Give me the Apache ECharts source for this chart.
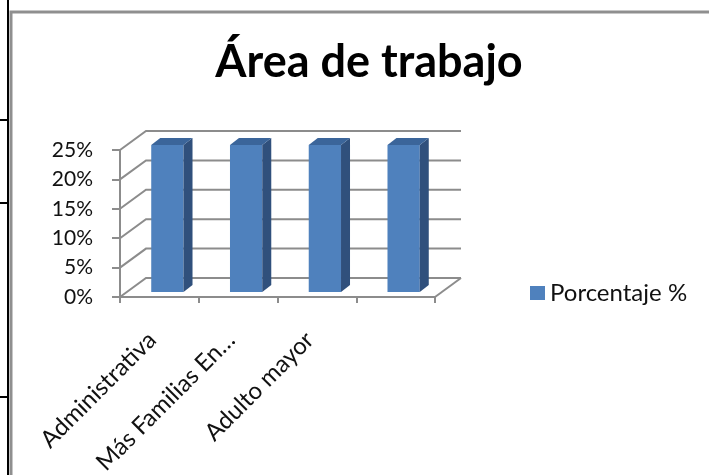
<!DOCTYPE html>
<html>
<head>
<meta charset="utf-8">
<style>
  html, body { margin: 0; padding: 0; background: #fff; }
  #chart { width: 709px; height: 475px; }
</style>
<script src="https://cdn.jsdelivr.net/npm/echarts@6/dist/echarts.min.js"></script>
</head>
<body>
<div id="chart"></div>
<script>
// Áreas de trabajo y porcentaje de cada una
const categories = ['Administrativa', 'Más Familias En…', 'Adulto mayor', ''];
const porcentaje = [0.25, 0.25, 0.25, 0.25];
const seriesName = 'Porcentaje %';
const chartTitle = 'Área de trabajo';

// Escala vertical
const Y_MIN = 0, Y_MAX = 0.25, Y_STEP = 0.05;
const yTicks = [];
for (let v = Y_MIN; v <= Y_MAX + 1e-9; v += Y_STEP) yTicks.push([0, +v.toFixed(2)]);

// Perspectiva de la vista 3D
const WALL_DX = 26, WALL_DY = 19;   // profundidad de la pared del fondo
const BAR_DX = 8, BAR_DY = 5;       // plano en que se ubican las columnas
const SIDE_DX = 9, SIDE_DY = 7;     // grosor de cada columna
const BAR_RATIO = 0.41;

const FONT = 'Lato, "Open Sans", sans-serif';
const GRID_COLOR = '#8c8c8c';
const FRONT = '#4F81BD', SIDE = '#30507C', TOP = '#3B659A';

const chart = echarts.init(document.getElementById('chart'), null, { renderer: 'canvas' });

function renderWall(params, api) {
  const cs = params.coordSys;
  const y = api.coord([0, api.value(1)])[1];
  const x0 = cs.x, x1 = cs.x + cs.width;
  const children = [{
    type: 'polyline',
    shape: { points: [[x0, y], [x0 + WALL_DX, y - WALL_DY], [x1 + WALL_DX, y - WALL_DY]] },
    style: { stroke: GRID_COLOR, lineWidth: 2, fill: null }
  }];
  if (api.value(1) === Y_MIN) {
    children.push({
      type: 'line',
      shape: { x1: x1, y1: y, x2: x1 + WALL_DX, y2: y - WALL_DY },
      style: { stroke: GRID_COLOR, lineWidth: 2 }
    });
  }
  return { type: 'group', children: children };
}

function renderBar(params, api) {
  const cat = api.value(0);
  const top = api.coord([cat, api.value(1)]);
  const base = api.coord([cat, 0]);
  const w = api.size([1, 0])[0] * BAR_RATIO;
  const x = top[0] - w / 2 + BAR_DX;
  const y = top[1] - BAR_DY;
  const h = base[1] - top[1];
  return {
    type: 'group',
    children: [
      { type: 'rect', shape: { x: x, y: y, width: w, height: h }, style: { fill: FRONT } },
      { type: 'polygon',
        shape: { points: [[x + w, y], [x + w + SIDE_DX, y - SIDE_DY], [x + w + SIDE_DX, y + h - SIDE_DY], [x + w, y + h]] },
        style: { fill: SIDE } },
      { type: 'polygon',
        shape: { points: [[x, y], [x + SIDE_DX, y - SIDE_DY], [x + w + SIDE_DX, y - SIDE_DY], [x + w, y]] },
        style: { fill: TOP } }
    ]
  };
}

chart.setOption({
  backgroundColor: '#fff',
  animation: false,
  title: {
    text: chartTitle,
    left: 364, top: 35, textAlign: 'center',
    textStyle: { fontFamily: FONT, fontWeight: 'bold', fontSize: 45, color: '#000' }
  },
  legend: {
    data: [seriesName],
    left: 525, top: 276,
    icon: 'rect', itemWidth: 15, itemHeight: 14, itemGap: 8,
    textStyle: { fontFamily: FONT, fontSize: 24, color: '#111' }
  },
  grid: {
    left: 120, right: 274, top: 150, bottom: 178,
    containLabel: false, outerBoundsMode: 'none'
  },
  xAxis: {
    type: 'category',
    data: categories,
    boundaryGap: true,
    axisLine: { show: true, lineStyle: { color: GRID_COLOR, width: 2 } },
    axisTick: { show: true, length: 6, lineStyle: { color: GRID_COLOR, width: 2 } },
    axisLabel: {
      interval: 0, rotate: 45, margin: 32, padding: [0, 10, 0, 0],
      fontFamily: FONT, fontSize: 24, color: '#111'
    },
    splitLine: { show: false }
  },
  yAxis: {
    type: 'value',
    min: Y_MIN, max: Y_MAX, interval: Y_STEP,
    axisLine: { show: true, lineStyle: { color: GRID_COLOR, width: 2 } },
    axisTick: { show: true, length: 8, lineStyle: { color: GRID_COLOR, width: 2 } },
    axisLabel: {
      margin: 27, fontFamily: FONT, fontSize: 21, color: '#111',
      formatter: v => Math.round(v * 100) + '%'
    },
    splitLine: { show: false }
  },
  series: [
    {
      type: 'custom',
      name: 'pared',
      renderItem: renderWall,
      data: yTicks,
      encode: { x: 0, y: 1 },
      silent: true,
      z: 1
    },
    {
      type: 'custom',
      name: seriesName,
      renderItem: renderBar,
      itemStyle: { color: FRONT },
      data: porcentaje.map((v, i) => [i, v]),
      encode: { x: 0, y: 1 },
      z: 3
    }
  ],
  graphic: [
    // marco del gráfico
    { type: 'rect', shape: { x: 11, y: 12, width: 720, height: 480 },
      style: { fill: null, stroke: '#8f8f8f', lineWidth: 3 }, silent: true, z: 0 },
    // bordes de la tabla que contiene el gráfico
    { type: 'rect', shape: { x: 7, y: 0, width: 2, height: 475 }, style: { fill: '#000' }, silent: true },
    { type: 'rect', shape: { x: 0, y: 119, width: 8, height: 2 }, style: { fill: '#000' }, silent: true },
    { type: 'rect', shape: { x: 0, y: 202, width: 8, height: 2 }, style: { fill: '#000' }, silent: true },
    { type: 'rect', shape: { x: 0, y: 396, width: 8, height: 2 }, style: { fill: '#000' }, silent: true }
  ]
});
</script>
</body>
</html>
